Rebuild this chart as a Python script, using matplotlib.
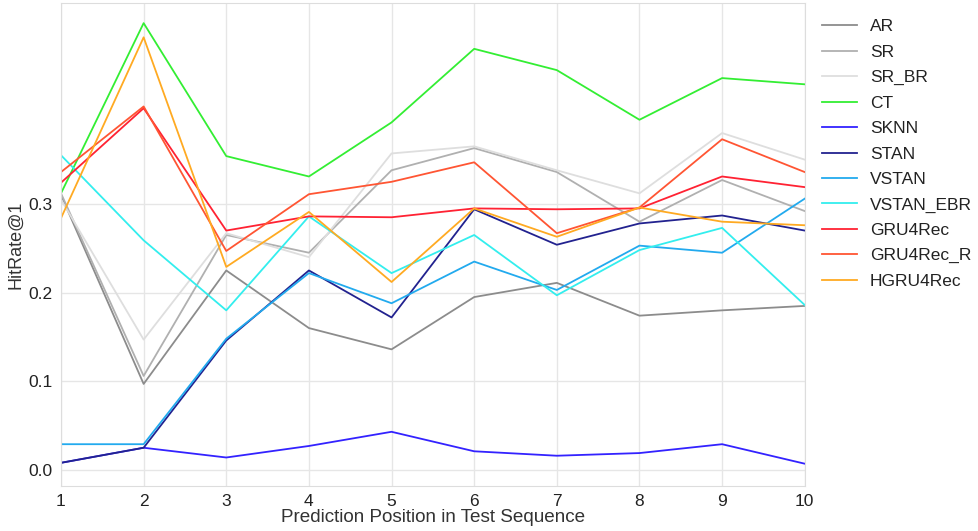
import matplotlib.pyplot as plt

plt.rcParams['font.family'] = ['Liberation Sans', 'DejaVu Sans']

# Data
positions = [1, 2, 3, 4, 5, 6, 7, 8, 9, 10]
ar = [0.31, 0.097, 0.225, 0.160, 0.136, 0.195, 0.211, 0.174, 0.180, 0.185]
sr = [0.312, 0.106, 0.265, 0.245, 0.338, 0.363, 0.336, 0.280, 0.327, 0.292]
sr_br = [0.305, 0.147, 0.267, 0.240, 0.357, 0.365, 0.338, 0.312, 0.380, 0.350]
ct = [0.312, 0.504, 0.354, 0.331, 0.392, 0.475, 0.451, 0.395, 0.442, 0.435]
sknn = [0.008, 0.025, 0.014, 0.027, 0.043, 0.021, 0.016, 0.019, 0.029, 0.007]
stan = [0.008, 0.025, 0.146, 0.225, 0.172, 0.294, 0.254, 0.278, 0.287, 0.270]
vstan = [0.029, 0.029, 0.148, 0.222, 0.188, 0.235, 0.203, 0.253, 0.245, 0.306]
vstan_ebr = [0.355, 0.259, 0.180, 0.286, 0.222, 0.265, 0.197, 0.248, 0.273, 0.186]
gru4rec = [0.324, 0.408, 0.270, 0.286, 0.285, 0.295, 0.294, 0.295, 0.331, 0.319]
gru4rec_r = [0.336, 0.410, 0.247, 0.311, 0.325, 0.347, 0.267, 0.296, 0.373, 0.336]
hgru4rec = [0.284, 0.488, 0.229, 0.291, 0.212, 0.295, 0.263, 0.296, 0.280, 0.276]

series = [
    ('AR', ar, '#8c8c8c'),
    ('SR', sr, '#b0b0b0'),
    ('SR_BR', sr_br, '#dedede'),
    ('CT', ct, '#33ee33'),
    ('SKNN', sknn, '#3322ff'),
    ('STAN', stan, '#22228f'),
    ('VSTAN', vstan, '#22aaee'),
    ('VSTAN_EBR', vstan_ebr, '#33eeee'),
    ('GRU4Rec', gru4rec, '#ff2233'),
    ('GRU4Rec_R', gru4rec_r, '#ff5533'),
    ('HGRU4Rec', hgru4rec, '#ffaa22'),
]

fig = plt.figure(figsize=(9.79, 5.31), dpi=100)
ax = fig.add_axes([0.0623, 0.085, 0.7597, 0.909])

for name, vals, color in series:
    ax.plot(positions, vals, label=name, color=color, linewidth=1.3)

ax.set_xlim(1, 10)
ax.set_ylim(-0.018, 0.5265)
ax.set_xticks(positions)
ax.set_yticks([0.0, 0.1, 0.2, 0.3])
ax.set_yticklabels(['0.0', '0.1', '0.2', '0.3'])
ax.grid(True, color='#e6e6e6', linewidth=1.0)
ax.set_axisbelow(True)
for spine in ax.spines.values():
    spine.set_color('#dddddd')
ax.tick_params(length=0, labelsize=12.5, labelcolor='#222222', pad=6)

ax.set_xlabel('Prediction Position in Test Sequence', fontsize=13.6, color='#333333', labelpad=0)
ax.set_ylabel('HitRate@1', fontsize=13, color='#333333', labelpad=3)

fig.legend(loc='upper left', bbox_to_anchor=(0.824, 0.993), frameon=False,
           prop={'size': 12.5}, handlelength=2.0,
           handletextpad=0.75, labelspacing=0.59, labelcolor='#222222')

plt.savefig('out.png', dpi=100)
